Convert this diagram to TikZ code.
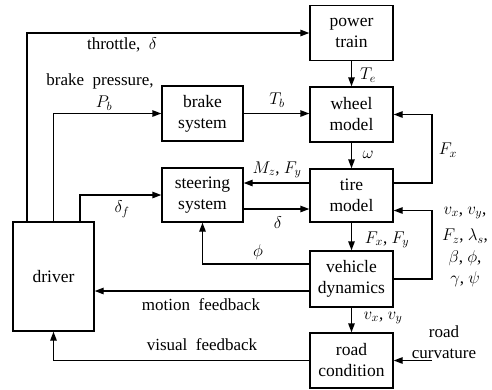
\RequirePackage{fix-cm}
\documentclass[tikz,border=0pt]{standalone}
\usepackage{fontspec}
\setmainfont{Liberation Serif}
\newfontfamily\tnr{Liberation Serif}
\usepackage{tikz}
\usetikzlibrary{arrows.meta,calc,positioning}

\begin{document}
\begin{tikzpicture}[x=1pt,y=-1pt,
  block/.style={draw,line width=1.4pt,align=center,inner sep=0pt,
    minimum width=83pt,minimum height=55pt,font=\tnr\fontsize{17.5}{21}\selectfont},
  arr/.style={line width=1.4pt,-{Triangle[length=9pt,width=6.5pt]}},
  lbl/.style={align=center,inner sep=0pt,font=\tnr\fontsize{17}{21}\selectfont}]
\useasboundingbox (0,0) rectangle (492,389);
% blocks
\node[block] (power) at (351.5,33) {power\\train};
\node[block] (wheel) at (351.5,114.5) {wheel\\model};
\node[block,minimum height=53pt] (tire) at (351.5,195.5) {tire\\model};
\node[block,minimum height=56pt] (veh) at (351.5,279) {vehicle\\dynamics};
\node[block] (road) at (351.5,360.5) {road\\condition};
\node[block,minimum width=81pt] (brake) at (202.5,113.5) {brake\\system};
\node[block,minimum width=81pt,minimum height=54pt] (steer) at (202.5,195) {steering\\system};
\node[block,minimum width=81pt,minimum height=109pt] (driver) at (53.5,276.5) {driver};
\coordinate (rbus) at (432,0);
\coordinate (curv) at (432,360.5);
% driver outputs
\draw[arr] ([xshift=-26.5pt]driver.north) |- (power.west);
\draw[arr] (driver.north) |- (brake.west);
\draw[arr] ([xshift=26.5pt]driver.north) |- (steer.west);
% forward chain
\draw[arr] (brake.east) -- (brake.east -| wheel.west);
\draw[arr] (power) -- (wheel);
\draw[arr] (wheel) -- (tire);
\draw[arr] (tire) -- (veh);
\draw[arr] (veh) -- (road);
\draw[arr] ([yshift=-14pt]steer.east) -- ([yshift=-14pt]steer.east -| tire.west);
\draw[arr] ([yshift=12.5pt]tire.west) -- ([yshift=12.5pt]tire.west -| steer.east);
% feedback loops
\draw[arr] ([yshift=12.5pt]tire.east) -- ([yshift=12.5pt]tire.east -| rbus) |- (wheel.east);
\draw[arr] (veh.east) -- (veh.east -| rbus) |- ([yshift=-15pt]tire.east);
\draw[arr] ([yshift=15pt]veh.west) -| (steer.south);
\draw[arr] ([yshift=-12pt]veh.west) -- ([yshift=-12pt]veh.west -| driver.east);
\draw[arr] (road.west) -| (driver.south);
\draw[arr] (curv) -- (road.east);
% labels
\node[lbl] (lthr) at (122,45) {throttle,\ \ $\delta$};
\node[lbl] (lbp) at (100,81) {brake\ \ pressure,};
\node[lbl] (lpb) at (104,103) {$P_b$};
\node[lbl] (ldf) at (122,209) {$\delta_f$};
\node[lbl] (ltb) at (277,100) {$T_b$};
\node[lbl] (lte) at (368,75) {$T_e$};
\node[lbl] (lom) at (368,155) {$\omega$};
\node[lbl] (lfx) at (448,150) {$F_x$};
\node[lbl] (lmz) at (277,170) {$M_z$, $F_y$};
\node[lbl] (ld) at (278,223) {$\delta$};
\node[lbl] (lfxy) at (387,240) {$F_x$, $F_y$};
\node[lbl] (lst1) at (465,213) {$v_x$, $v_y$,};
\node[lbl] (lst2) at (465,236) {$F_z$, $\lambda_s$,};
\node[lbl] (lst3) at (465,258) {$\beta$, $\phi$,};
\node[lbl] (lst4) at (465,279) {$\gamma$, $\psi$};
\node[lbl] (lphi) at (258,252) {$\phi$};
\node[lbl] (lmf) at (201,305) {motion\ \ feedback};
\node[lbl] (lvf) at (202,345) {visual\ \ feedback};
\node[lbl] (lvxy) at (383,318) {$v_x$, $v_y$};
\node[lbl] (lcurv) at (444,342) {road\\curvature};
\end{tikzpicture}
\end{document}
